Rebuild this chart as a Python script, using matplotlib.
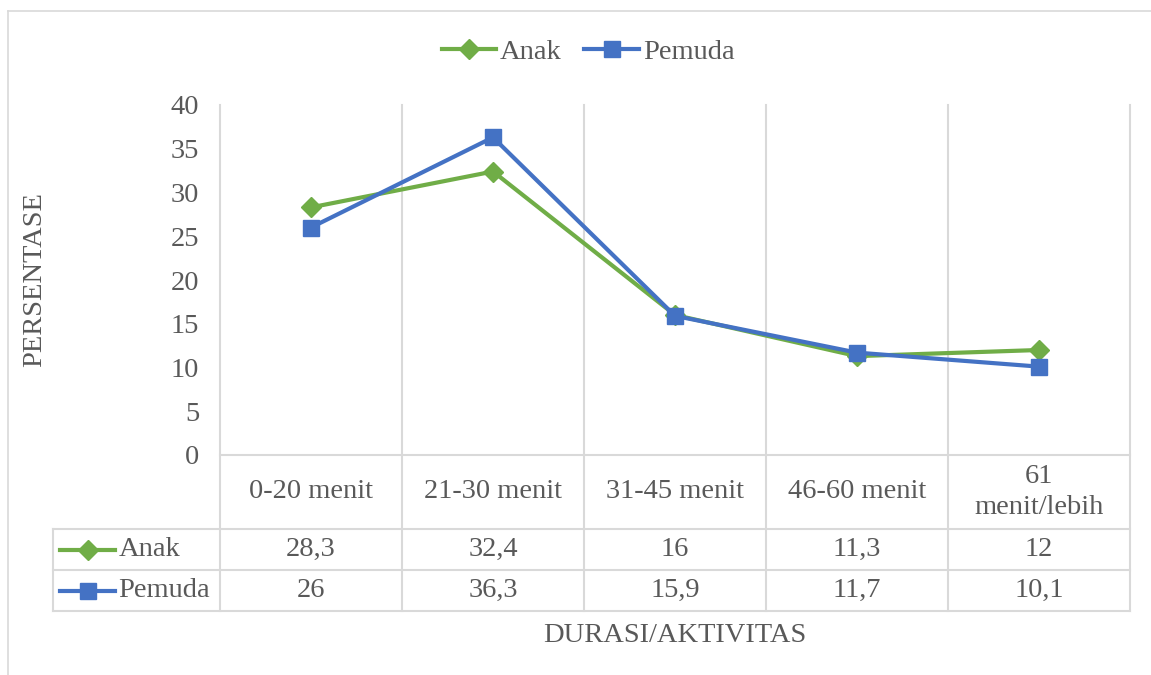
import matplotlib.pyplot as plt
from matplotlib.lines import Line2D
from matplotlib.transforms import blended_transform_factory

plt.rcParams['font.family'] = ['Liberation Serif', 'DejaVu Serif']

# data
categories = ['0-20 menit', '21-30 menit', '31-45 menit', '46-60 menit', '61\nmenit/lebih']
anak = [28.3, 32.4, 16, 11.3, 12]
pemuda = [26, 36.3, 15.9, 11.7, 10.1]
anak_txt = ['28,3', '32,4', '16', '11,3', '12']
pemuda_txt = ['26', '36,3', '15,9', '11,7', '10,1']

green = '#70AD47'
blue = '#4472C4'
grid = '#D9D9D9'
txt = '#595959'
fs = 20.5

W, H = 1151, 675
fig = plt.figure(figsize=(W / 100, H / 100), dpi=100)

# plot area in pixels of the reference
x0, x1, ytop, ybot = 220, 1130, 105, 455
ax = fig.add_axes([x0 / W, 1 - ybot / H, (x1 - x0) / W, (ybot - ytop) / H])
ax.set_xlim(0, len(categories))
ax.set_ylim(0, 40)
for s in ax.spines.values():
    s.set_visible(False)
ax.set_xticks([])
ax.set_yticks(range(0, 41, 5))
ax.tick_params(axis='y', length=0, pad=15, labelsize=fs, labelcolor=txt)

xs = [i + 0.5 for i in range(len(categories))]
ax.plot(xs, anak, color=green, lw=3, marker='D', ms=10, label='Anak', zorder=3)
ax.plot(xs, pemuda, color=blue, lw=3, marker='s', ms=12, label='Pemuda', zorder=4)

# data table below the axis
tr = blended_transform_factory(ax.transData, ax.transAxes)
px = 1.0 / (ybot - ytop)
r1 = -(529 - ybot) * px
r2 = -(570 - ybot) * px
r3 = -(611 - ybot) * px
xl = (53 - x0) / ((x1 - x0) / len(categories))

lk = dict(color=grid, lw=1.5, transform=tr, clip_on=False, zorder=1)
for i in range(len(categories) + 1):
    ax.plot([i, i], [1, r3], **lk)
ax.plot([0, len(categories)], [0, 0], **lk)
for y in (r1, r2, r3):
    ax.plot([xl, len(categories)], [y, y], **lk)
ax.plot([xl, xl], [r1, r3], **lk)

for i, c in enumerate(categories):
    ax.text(xs[i], r1 / 2, c, ha='center', va='center', fontsize=fs, color=txt,
            transform=tr, linespacing=1.35)
    ax.text(xs[i], (r1 + r2) / 2, anak_txt[i], ha='center', va='center',
            fontsize=fs, color=txt, transform=tr)
    ax.text(xs[i], (r2 + r3) / 2, pemuda_txt[i], ha='center', va='center',
            fontsize=fs, color=txt, transform=tr)

# row keys in the table
for y, col, mk, ms, name in [((r1 + r2) / 2, green, 'D', 10, 'Anak'),
                             ((r2 + r3) / 2, blue, 's', 12, 'Pemuda')]:
    ax.add_line(Line2D([xl + 0.04, xl + 0.34], [y, y], color=col, lw=3,
                       transform=tr, clip_on=False))
    ax.add_line(Line2D([xl + 0.19], [y], color=col, marker=mk, ms=ms, lw=0,
                       transform=tr, clip_on=False))
    ax.text(xl + 0.36, y, name, ha='left', va='center', fontsize=fs,
            color=txt, transform=tr)

# axis titles
fig.text(35 / W, 1 - 280 / H, 'PERSENTASE', rotation=90, ha='center',
         va='center', fontsize=fs, color=txt)
fig.text(675 / W, 1 - 635 / H, 'DURASI/AKTIVITAS', ha='center', va='center',
         fontsize=fs, color=txt)

# legend
fig.legend(loc='center', bbox_to_anchor=(588 / W, 1 - 52 / H), ncol=2,
           frameon=False, fontsize=fs, labelcolor=txt, handlelength=1.9,
           handletextpad=0.15, columnspacing=0.8)

# chart border (top and left)
fig.add_artist(Line2D([8 / W, 1], [1 - 11 / H, 1 - 11 / H], color=grid, lw=1.2))
fig.add_artist(Line2D([8 / W, 8 / W], [0, 1 - 11 / H], color=grid, lw=1.2))

plt.savefig('out.png', dpi=100)
